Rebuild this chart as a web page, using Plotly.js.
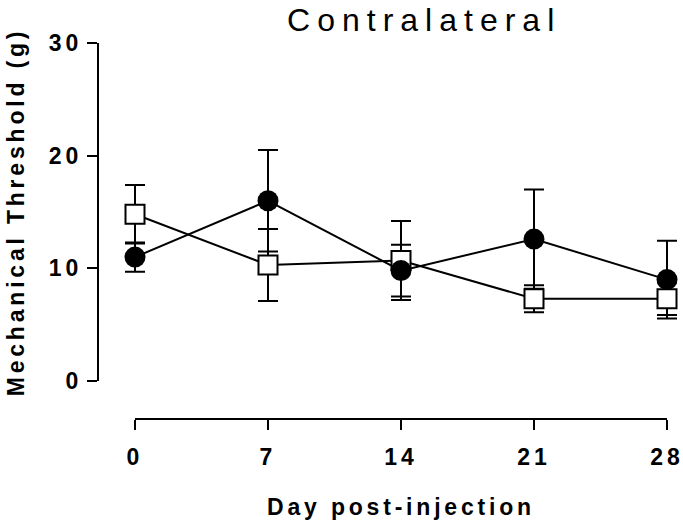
<!DOCTYPE html>
<html><head><meta charset="utf-8">
<script src="https://cdn.plot.ly/plotly-3.0.1.min.js"></script>
<style>
html,body{margin:0;padding:0;background:#fff}
#chart{width:683px;height:520px}
#chart text.gtitle{letter-spacing:7px}
#chart text.xtitle, #chart text.ytitle{letter-spacing:3.8px}
#chart g.xtick text, #chart g.ytick text{letter-spacing:4px}
</style></head><body><div id="chart"></div>
<script>
const days=[0,7,14,21,28];
const filledMean=[11.0,16.0,9.8,12.6,9.0];
const filledErr=[1.3,4.5,2.3,4.4,3.45];
const openMean=[14.8,10.3,10.7,7.3,7.3];
const openErr=[2.6,3.2,3.5,1.2,1.45];
const xTickVals=[0,7,14,21,28];
const xTickText=['0','7','14','21','28'];
const yTickVals=[0,10,20,30];
const yTickText=['0','10','20','30'];

const FONT='Liberation Sans, Arial, Helvetica, sans-serif';
function errTrace(y,e){
  return {x:days,y:y,type:'scatter',mode:'markers',cliponaxis:false,hoverinfo:'skip',showlegend:false,
    marker:{size:1,opacity:0},
    error_y:{type:'data',array:e,visible:true,color:'#000',thickness:2,width:10}};
}
const data=[
  errTrace(openMean,openErr),
  errTrace(filledMean,filledErr),
  {x:days,y:openMean,type:'scatter',mode:'lines+markers',cliponaxis:false,showlegend:false,
   line:{color:'#000',width:2},
   marker:{symbol:'square',size:19,color:'#fff',line:{color:'#000',width:2}}},
  {x:days,y:filledMean,type:'scatter',mode:'lines+markers',cliponaxis:false,showlegend:false,
   line:{color:'#000',width:2},
   marker:{symbol:'circle',size:21,color:'#000',line:{color:'#000',width:0}}}
];
const tickFont={family:FONT,size:23,color:'#000',weight:700};
const layout={
  width:683,height:520,
  paper_bgcolor:'#fff',plot_bgcolor:'#fff',
  margin:{l:98,r:0,t:43,b:101},
  showlegend:false,
  title:{text:'Contralateral',font:{family:FONT,size:32,color:'#000'},
    xref:'container',x:0.621,xanchor:'center',yref:'container',y:0.962,yanchor:'middle'},
  xaxis:{domain:[0.0359,1],range:[-0.842,28.842],anchor:'free',position:0,
    showline:false,
    ticks:'outside',ticklen:10,tickwidth:2,tickcolor:'#000',ticklabelstandoff:7,
    tickmode:'array',tickvals:xTickVals,ticktext:xTickText,
    tickfont:tickFont,
    showgrid:false,zeroline:false,
    title:{text:'Day post-injection',standoff:30,font:{family:FONT,size:23,color:'#000',weight:700}}},
  yaxis:{domain:[0.101,1],range:[0,30],anchor:'free',position:0,
    showline:true,linecolor:'#000',linewidth:2,
    ticks:'outside',ticklen:10,tickwidth:2,tickcolor:'#000',
    tickmode:'array',tickvals:yTickVals,ticktext:yTickText,
    tickfont:tickFont,
    showgrid:false,zeroline:false,
    title:{text:'Mechanical Threshold (g)',standoff:25,font:{family:FONT,size:23,color:'#000',weight:700}}},
  shapes:[{type:'line',xref:'x',yref:'paper',x0:xTickVals[0],x1:xTickVals[xTickVals.length-1],y0:0,y1:0,
    line:{color:'#000',width:2},layer:'above'}]
};
Plotly.newPlot('chart',data,layout,{displayModeBar:false,staticPlot:true});
</script></body></html>
